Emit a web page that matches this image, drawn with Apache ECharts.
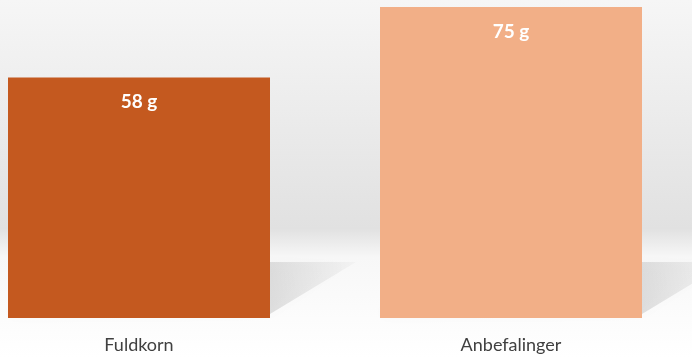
<!DOCTYPE html>
<html>
<head>
<meta charset="utf-8">
<script src="https://cdn.jsdelivr.net/npm/echarts@6/dist/echarts.min.js"></script>
<style>
  html, body { margin: 0; padding: 0; background: #fff; }
  #chart { width: 692px; height: 357px; }
</style>
</head>
<body>
<div id="chart"></div>
<script>
const categories = ['Fuldkorn', 'Anbefalinger'];
const values = [58, 75];
const barColors = ['#C4591F', '#F2AF87'];

const chart = echarts.init(document.getElementById('chart'));

const option = {
  backgroundColor: '#ffffff',
  animation: false,
  graphic: [{
    type: 'rect',
    z: -10,
    shape: { x: 0, y: 0, width: 692, height: 357 },
    style: {
      fill: new echarts.graphic.LinearGradient(0, 0, 0, 1, [
        { offset: 0, color: '#f6f6f6' },
        { offset: 0.64, color: '#e1e1e1' },
        { offset: 0.72, color: '#f7f7f7' },
        { offset: 1, color: '#ffffff' }
      ])
    }
  }],
  grid: { left: -47, top: 7, width: 744, height: 311, outerBoundsMode: 'none', containLabel: false },
  xAxis: {
    type: 'category',
    data: categories,
    axisLine: { show: false },
    axisTick: { show: false },
    axisLabel: {
      margin: 18,
      fontSize: 18,
      color: '#404040',
      fontFamily: 'Lato'
    }
  },
  yAxis: { type: 'value', min: 0, max: 75, show: false },
  series: [
    {
      // soft floor shadow behind each bar
      type: 'custom',
      z: 1,
      silent: true,
      data: values.map((v, i) => [i, v]),
      renderItem: (params, api) => {
        const base = api.coord([api.value(0), 0]);
        const half = 131;
        const dx = 86, dy = 56;
        return {
          type: 'polygon',
          shape: {
            points: [
              [base[0] - half, base[1] - 4],
              [base[0] + half, base[1] - 4],
              [base[0] + half + dx, base[1] - dy],
              [base[0] - half + dx, base[1] - dy]
            ]
          },
          style: {
            fill: new echarts.graphic.LinearGradient(0, 1, 1, 0, [
              { offset: 0, color: 'rgba(0,0,0,0.3)' },
              { offset: 0.6, color: 'rgba(0,0,0,0.16)' },
              { offset: 1, color: 'rgba(0,0,0,0.02)' }
            ]),
            shadowBlur: 12,
            shadowColor: 'rgba(0,0,0,0.12)'
          }
        };
      }
    },
    {
      type: 'bar',
      z: 2,
      barWidth: 262,
      data: values.map((v, i) => ({ value: v, itemStyle: { color: barColors[i] } })),
      label: {
        show: true,
        position: 'insideTop',
        distance: 15,
        formatter: '{c} g',
        color: '#ffffff',
        fontWeight: 'bold',
        fontSize: 19,
        fontFamily: 'Lato'
      }
    }
  ]
};

chart.setOption(option);
</script>
</body>
</html>
